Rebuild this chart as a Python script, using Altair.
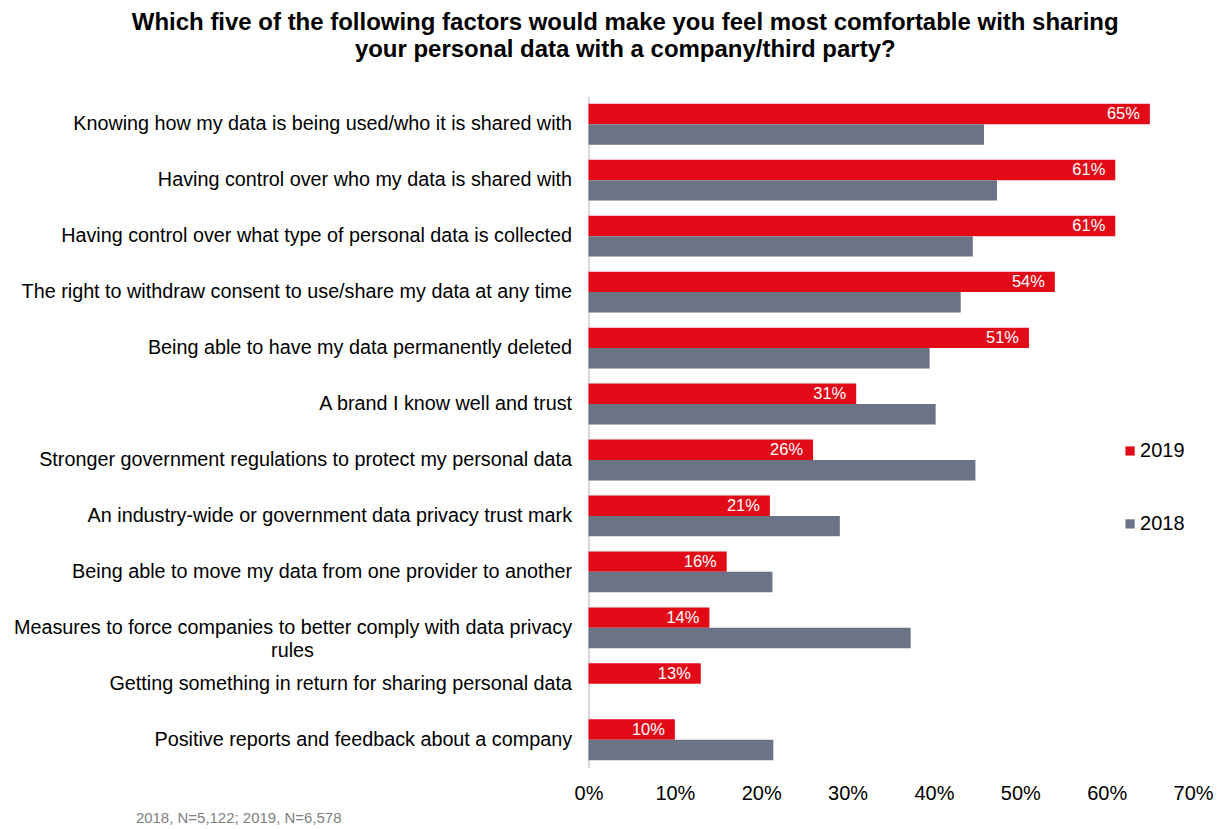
import altair as alt
import pandas as pd

categories = [
    "Knowing how my data is being used/who it is shared with",
    "Having control over who my data is shared with",
    "Having control over what type of personal data is collected",
    "The right to withdraw consent to use/share my data at any time",
    "Being able to have my data permanently deleted",
    "A brand I know well and trust",
    "Stronger government regulations to protect my personal data",
    "An industry-wide or government data privacy trust mark",
    "Being able to move my data from one provider to another ",
    "Measures to force companies to better comply with data privacy rules",
    "Getting something in return for sharing personal data",
    "Positive reports and feedback about a company",
]
values_2019 = [65, 61, 61, 54, 51, 31, 26, 21, 16, 14, 13, 10]
values_2018 = [45.8, 47.3, 44.5, 43.1, 39.5, 40.2, 44.8, 29.1, 21.3, 37.3, None, 21.4]
years = ["2019", "2018"]
colors = ["#E30A17", "#6C7387"]
tick_values = [0, 0.1, 0.2, 0.3, 0.4, 0.5, 0.6, 0.7]
title_lines = [
    "Which five of the following factors would make you feel most comfortable with sharing",
    "your personal data with a company/third party?",
]
footnote = "2018, N=5,122; 2019, N=6,578"

rows = []
for c, a, b in zip(categories, values_2019, values_2018):
    rows.append({"factor": c, "year": "2019", "value": a / 100, "label": f"{a}%"})
    if b is not None:
        rows.append({"factor": c, "year": "2018", "value": b / 100, "label": ""})
df = pd.DataFrame(rows)

FONT = "Liberation Sans"
nb = "\u00a0" * 47 + "\u200b"
label_expr = (
    "datum.label == 'Measures to force companies to better comply with data privacy rules' ? "
    "['Measures to force companies to better comply with data privacy', 'rules" + nb + "'] : datum.label"
)

y_enc = alt.Y(
    "factor:N",
    sort=categories,
    scale=alt.Scale(paddingInner=0.27, paddingOuter=0.135),
    axis=alt.Axis(
        title=None,
        labelFont=FONT,
        labelFontSize=19.8,
        labelColor="#000000",
        labelLimit=900,
        labelPadding=17,
        labelLineHeight=23,
        labelExpr=label_expr,
        ticks=False,
        domainColor="#D9D9D9",
        domainWidth=2,
    ),
)
x_enc = alt.X(
    "value:Q",
    scale=alt.Scale(domain=[0, 0.7], nice=False),
    axis=alt.Axis(
        title=None,
        values=tick_values,
        format=".0%",
        grid=False,
        domain=False,
        ticks=False,
        labelFlush=False,
        labelFont=FONT,
        labelFontSize=20,
        labelColor="#000000",
        labelPadding=16,
    ),
)
yoff = alt.YOffset("year:N", sort=years, scale=alt.Scale(paddingInner=0, paddingOuter=0))

base = alt.Chart(df)
bars = base.mark_bar().encode(
    x=x_enc,
    y=y_enc,
    yOffset=yoff,
    color=alt.Color(
        "year:N",
        sort=years,
        scale=alt.Scale(domain=years, range=colors),
        legend=alt.Legend(
            title=None,
            orient="none",
            legendX=532,
            legendY=345,
            symbolType="square",
            symbolSize=85,
            symbolStrokeWidth=0,
            labelFont=FONT,
            labelFontSize=20,
            labelColor="#000000",
            labelOffset=0,
            rowPadding=53,
        ),
    ),
)
texts = base.transform_filter(alt.datum.year == "2019").mark_text(
    align="right", baseline="middle", dx=-10, color="white", font=FONT, fontSize=16.5
).encode(
    x="value:Q",
    y=alt.Y("factor:N", sort=categories),
    yOffset=yoff,
    text="label:N",
)
foot = alt.Chart(pd.DataFrame({"t": [footnote]})).mark_text(
    align="left", baseline="middle", font=FONT, fontSize=15, color="#808080"
).encode(x=alt.value(-453), y=alt.value(722), text="t:N")

chart = (
    alt.layer(bars, texts, foot)
    .properties(
        width=605,
        height=672,
        padding={"left": 5, "top": 3, "right": 0, "bottom": 0},
        title=alt.TitleParams(
            title_lines,
            font=FONT,
            fontSize=24,
            fontWeight="bold",
            color="#000000",
            anchor="middle",
            frame="bounds",
            lineHeight=27,
            offset=34,
            dx=12,
        ),
    )
    .configure_view(stroke=None)
)
chart.save("out.html", embed_options={"renderer": "svg", "actions": False})
